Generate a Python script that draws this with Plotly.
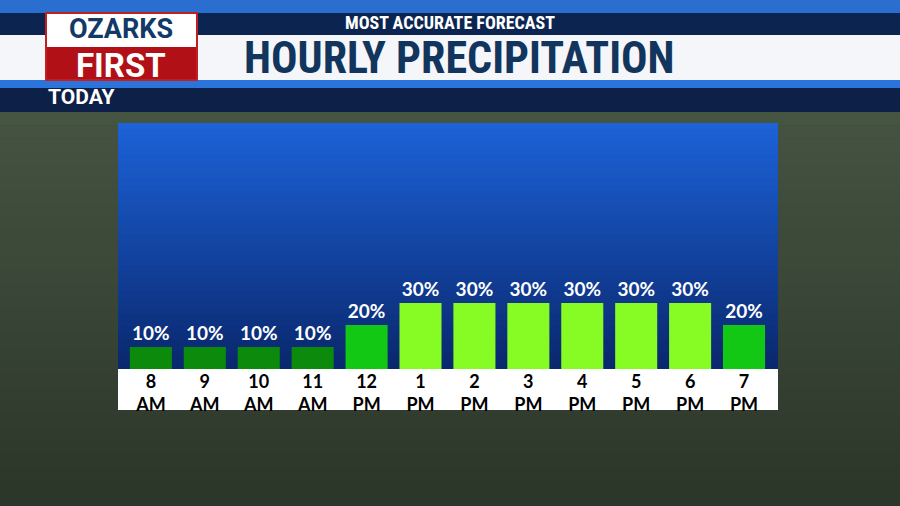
import plotly.graph_objects as go

hours = ["8<br>AM","9<br>AM","10<br>AM","11<br>AM","12<br>PM","1<br>PM","2<br>PM","3<br>PM","4<br>PM","5<br>PM","6<br>PM","7<br>PM"]
precip = [10,10,10,10,20,30,30,30,30,30,30,20]
color_map = {10: "#0b8a0b", 20: "#12c814", 30: "#86fb24"}

W, H = 900, 506
def px(x): return x / W
def py(y): return 1 - y / H

xs = list(range(len(hours)))
fig = go.Figure(go.Bar(
    x=xs, y=precip, width=0.78,
    marker=dict(color=[color_map[v] for v in precip], line=dict(width=0)),
    text=[f"<b>{v}%</b>" for v in precip], textposition="outside",
    textfont=dict(color="white", size=19, family="Lato, sans-serif"),
    cliponaxis=False,
))

shapes = []
bg_top = (70, 84, 66); bg_bot = (44, 54, 42)
nb = 30
for i in range(nb):
    t = i / (nb - 1)
    c = tuple(int(bg_top[k] + (bg_bot[k] - bg_top[k]) * t) for k in range(3))
    ya = 112 + (506 - 112) * i / nb
    yb = 112 + (506 - 112) * (i + 1) / nb + 0.5
    shapes.append(dict(type="rect", xref="paper", yref="paper", x0=0, x1=1, y0=py(yb), y1=py(ya),
                       fillcolor="rgb(%d,%d,%d)" % c, line_width=0, layer="below"))
top = (28, 98, 216); bot = (10, 40, 110)
n = 40
y0p, y1p = 123, 370
for i in range(n):
    t = i / (n - 1)
    c = tuple(int(top[k] + (bot[k] - top[k]) * t) for k in range(3))
    ya = y0p + (y1p - y0p) * i / n
    yb = y0p + (y1p - y0p) * (i + 1) / n + 0.5
    shapes.append(dict(type="rect", xref="paper", yref="paper", x0=px(118), x1=px(778), y0=py(yb), y1=py(ya),
                       fillcolor="rgb(%d,%d,%d)" % c, line_width=0, layer="below"))
shapes.append(dict(type="rect", xref="paper", yref="paper", x0=px(118), x1=px(778), y0=py(410), y1=py(369), fillcolor="white", line_width=0, layer="below"))
def band(y0, y1, col, x0=0, x1=900, layer="above"):
    shapes.append(dict(type="rect", xref="paper", yref="paper", x0=px(x0), x1=px(x1), y0=py(y1), y1=py(y0), fillcolor=col, line_width=0, layer=layer))
band(0, 13, "#2a6fd0")
band(13, 35, "#0c2550")
band(35, 80, "#f4f6f9")
band(80, 88, "#2a74dc")
band(88, 112, "#0c2048")
band(13, 47, "#ffffff", 46, 197)
band(47, 80, "#b01016", 46, 197)
shapes.append(dict(type="rect", xref="paper", yref="paper", x0=px(46), x1=px(197), y0=py(80), y1=py(13), line=dict(color="#c02020", width=2)))

ann = [
    dict(text="<b>MOST ACCURATE FORECAST</b>", x=px(450), y=py(23), font=dict(color="white", size=18, family="Roboto Condensed, Roboto, sans-serif")),
    dict(text="<b>HOURLY PRECIPITATION</b>", x=px(460), y=py(58), font=dict(color="#12355e", size=44, family="Roboto Condensed, Roboto, sans-serif")),
    dict(text="<b>TODAY</b>", x=px(46), y=py(97), xanchor="left", font=dict(color="white", size=21, family="Roboto, sans-serif")),
    dict(text="<b>OZARKS</b>", x=px(121), y=py(29), font=dict(color="#123a68", size=27, family="Roboto, sans-serif")),
    dict(text="<b>FIRST</b>", x=px(121), y=py(65), font=dict(color="white", size=33, family="Roboto, sans-serif")),
]
for a in ann:
    a.update(xref="paper", yref="paper", showarrow=False, yanchor="middle", xanchor=a.get("xanchor", "center"))

fig.update_layout(
    width=W, height=H, margin=dict(l=0, r=0, t=0, b=0),
    paper_bgcolor="#2e3a2b", plot_bgcolor="rgba(0,0,0,0)",
    shapes=shapes, annotations=ann, showlegend=False,
    xaxis=dict(domain=[px(118), px(778)], range=[-0.61, 11.63], tickvals=xs,
               ticktext=[f"<b>{h}</b>" for h in hours],
               tickfont=dict(color="black", size=18, family="Lato, sans-serif"),
               showgrid=False, zeroline=False, showline=False, ticks="", ticklen=0),
    yaxis=dict(domain=[py(369), py(123)], range=[0, 111.8], visible=False, showgrid=False),
)
fig.write_html("out.html", config={"displayModeBar": False},
               post_script="document.body.style.margin='0';document.body.style.overflow='hidden';")
